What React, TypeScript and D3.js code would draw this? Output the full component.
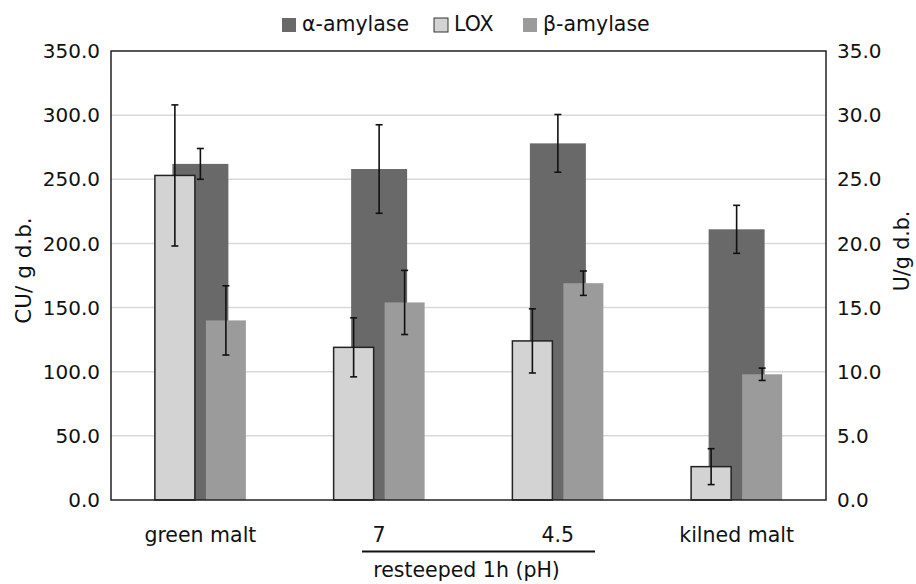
import * as d3 from 'd3';
import React from 'react';

// values
const categories = ['green malt', '7', '4.5', 'kilned malt'];

// α-amylase and β-amylase on the left axis (CU/ g d.b.)
const alphaAmylase = [262, 258, 278, 211];
const alphaErr = [12, 34.5, 22.5, 18.7];
const betaAmylase = [140, 154, 169, 98];
const betaErr = [27, 25, 9.5, 4.8];

// LOX on the right axis (U/g d.b.)
const lox = [25.3, 11.9, 12.4, 2.6];
const loxErr = [5.5, 2.3, 2.5, 1.4];

const leftTicks = [0, 50, 100, 150, 200, 250, 300, 350];
const rightTicks = [0, 5, 10, 15, 20, 25, 30, 35];

const legendItems = [
  { label: 'α-amylase', color: '#696969', stroke: 'none' },
  { label: 'LOX', color: '#d3d3d3', stroke: '#333' },
  { label: 'β-amylase', color: '#9b9b9b', stroke: 'none' }
];

const W = 916;
const H = 584;
const FONT = '"DejaVu Sans", sans-serif';

export default function App() {
  const margin = { top: 51, right: 90, bottom: 84, left: 111 };
  const plotRight = W - margin.right;
  const plotBottom = H - margin.bottom;

  const x = d3
    .scaleBand<string>()
    .domain(categories)
    .range([margin.left, plotRight])
    .padding(0);
  const yLeft = d3.scaleLinear().domain([0, 350]).range([plotBottom, margin.top]);
  const yRight = d3.scaleLinear().domain([0, 35]).range([plotBottom, margin.top]);

  const cx = (c: string) => x(c)! + x.bandwidth() / 2;

  const alphaW = 56;
  const sideW = 40;
  const sideOff = 25.5;
  const cap = 3.5;

  const errorBar = (key: string, xc: number, yTop: number, yBot: number) => (
    <g key={key} stroke="#111" strokeWidth={1.6}>
      <line x1={xc} x2={xc} y1={yTop} y2={yBot} />
      <line x1={xc - cap} x2={xc + cap} y1={yTop} y2={yTop} />
      <line x1={xc - cap} x2={xc + cap} y1={yBot} y2={yBot} />
    </g>
  );

  // legend layout
  const legendX = [282, 434, 523];

  return (
    <svg
      width={W}
      height={H}
      style={{ position: 'absolute', left: 0, top: 0, background: '#fff' }}
      fontFamily={FONT}
    >
      <rect width={W} height={H} fill="#fff" />

      {/* gridlines */}
      {leftTicks.slice(1, -1).map((t) => (
        <line
          key={'g' + t}
          x1={margin.left}
          x2={plotRight}
          y1={yLeft(t)}
          y2={yLeft(t)}
          stroke="#d9d9d9"
          strokeWidth={1.5}
        />
      ))}

      {/* α-amylase bars (behind) */}
      {categories.map((c, i) => (
        <rect
          key={'a' + c}
          x={cx(c) - alphaW / 2}
          y={yLeft(alphaAmylase[i])}
          width={alphaW}
          height={plotBottom - yLeft(alphaAmylase[i])}
          fill="#696969"
        />
      ))}

      {/* LOX bars */}
      {categories.map((c, i) => (
        <rect
          key={'l' + c}
          x={cx(c) - sideOff - sideW / 2}
          y={yRight(lox[i])}
          width={sideW}
          height={plotBottom - yRight(lox[i])}
          fill="#d3d3d3"
          stroke="#222"
          strokeWidth={1.5}
        />
      ))}

      {/* β-amylase bars */}
      {categories.map((c, i) => (
        <rect
          key={'b' + c}
          x={cx(c) + sideOff - sideW / 2}
          y={yLeft(betaAmylase[i])}
          width={sideW}
          height={plotBottom - yLeft(betaAmylase[i])}
          fill="#9b9b9b"
        />
      ))}

      {/* error bars */}
      {categories.map((c, i) =>
        errorBar(
          'ea' + c,
          cx(c),
          yLeft(alphaAmylase[i] + alphaErr[i]),
          yLeft(alphaAmylase[i] - alphaErr[i])
        )
      )}
      {categories.map((c, i) =>
        errorBar(
          'el' + c,
          cx(c) - sideOff,
          yRight(lox[i] + loxErr[i]),
          yRight(lox[i] - loxErr[i])
        )
      )}
      {categories.map((c, i) =>
        errorBar(
          'eb' + c,
          cx(c) + sideOff,
          yLeft(betaAmylase[i] + betaErr[i]),
          yLeft(betaAmylase[i] - betaErr[i])
        )
      )}

      {/* plot frame */}
      <rect
        x={margin.left}
        y={margin.top}
        width={plotRight - margin.left}
        height={plotBottom - margin.top}
        fill="none"
        stroke="#222"
        strokeWidth={1.5}
      />

      {/* left ticks */}
      {leftTicks.map((t) => (
        <text
          key={'lt' + t}
          x={margin.left - 11}
          y={yLeft(t)}
          dy="0.36em"
          textAnchor="end"
          fontSize={20}
          fill="#111"
        >
          {t.toFixed(1)}
        </text>
      ))}
      {/* right ticks */}
      {rightTicks.map((t) => (
        <text
          key={'rt' + t}
          x={plotRight + 11}
          y={yRight(t)}
          dy="0.36em"
          textAnchor="start"
          fontSize={20}
          fill="#111"
        >
          {t.toFixed(1)}
        </text>
      ))}

      {/* axis titles */}
      <text
        transform={`translate(31,${(margin.top + plotBottom) / 2 - 5}) rotate(-90)`}
        textAnchor="middle"
        fontSize={21.5}
        fill="#111"
      >
        CU/ g d.b.
      </text>
      <text
        transform={`translate(909,251) rotate(-90)`}
        textAnchor="middle"
        fontSize={20.5}
        fill="#111"
      >
        U/g d.b.
      </text>

      {/* category labels */}
      {categories.map((c) => (
        <text
          key={'c' + c}
          x={cx(c)}
          y={542}
          textAnchor="middle"
          fontSize={20.5}
          fill="#111"
        >
          {c}
        </text>
      ))}
      <line x1={362} x2={595} y1={551.5} y2={551.5} stroke="#111" strokeWidth={2.2} />
      <text
        x={(cx('7') + cx('4.5')) / 2 - 2}
        y={577}
        textAnchor="middle"
        fontSize={20.5}
        fill="#111"
      >
        resteeped 1h (pH)
      </text>

      {/* legend */}
      {legendItems.map((d, i) => (
        <g key={'lg' + d.label}>
          <rect
            x={legendX[i]}
            y={18}
            width={14}
            height={14}
            fill={d.color}
            stroke={d.stroke}
            strokeWidth={1}
          />
          <text x={legendX[i] + 20} y={31} fontSize={20.5} fill="#111">
            {d.label}
          </text>
        </g>
      ))}
    </svg>
  );
}
